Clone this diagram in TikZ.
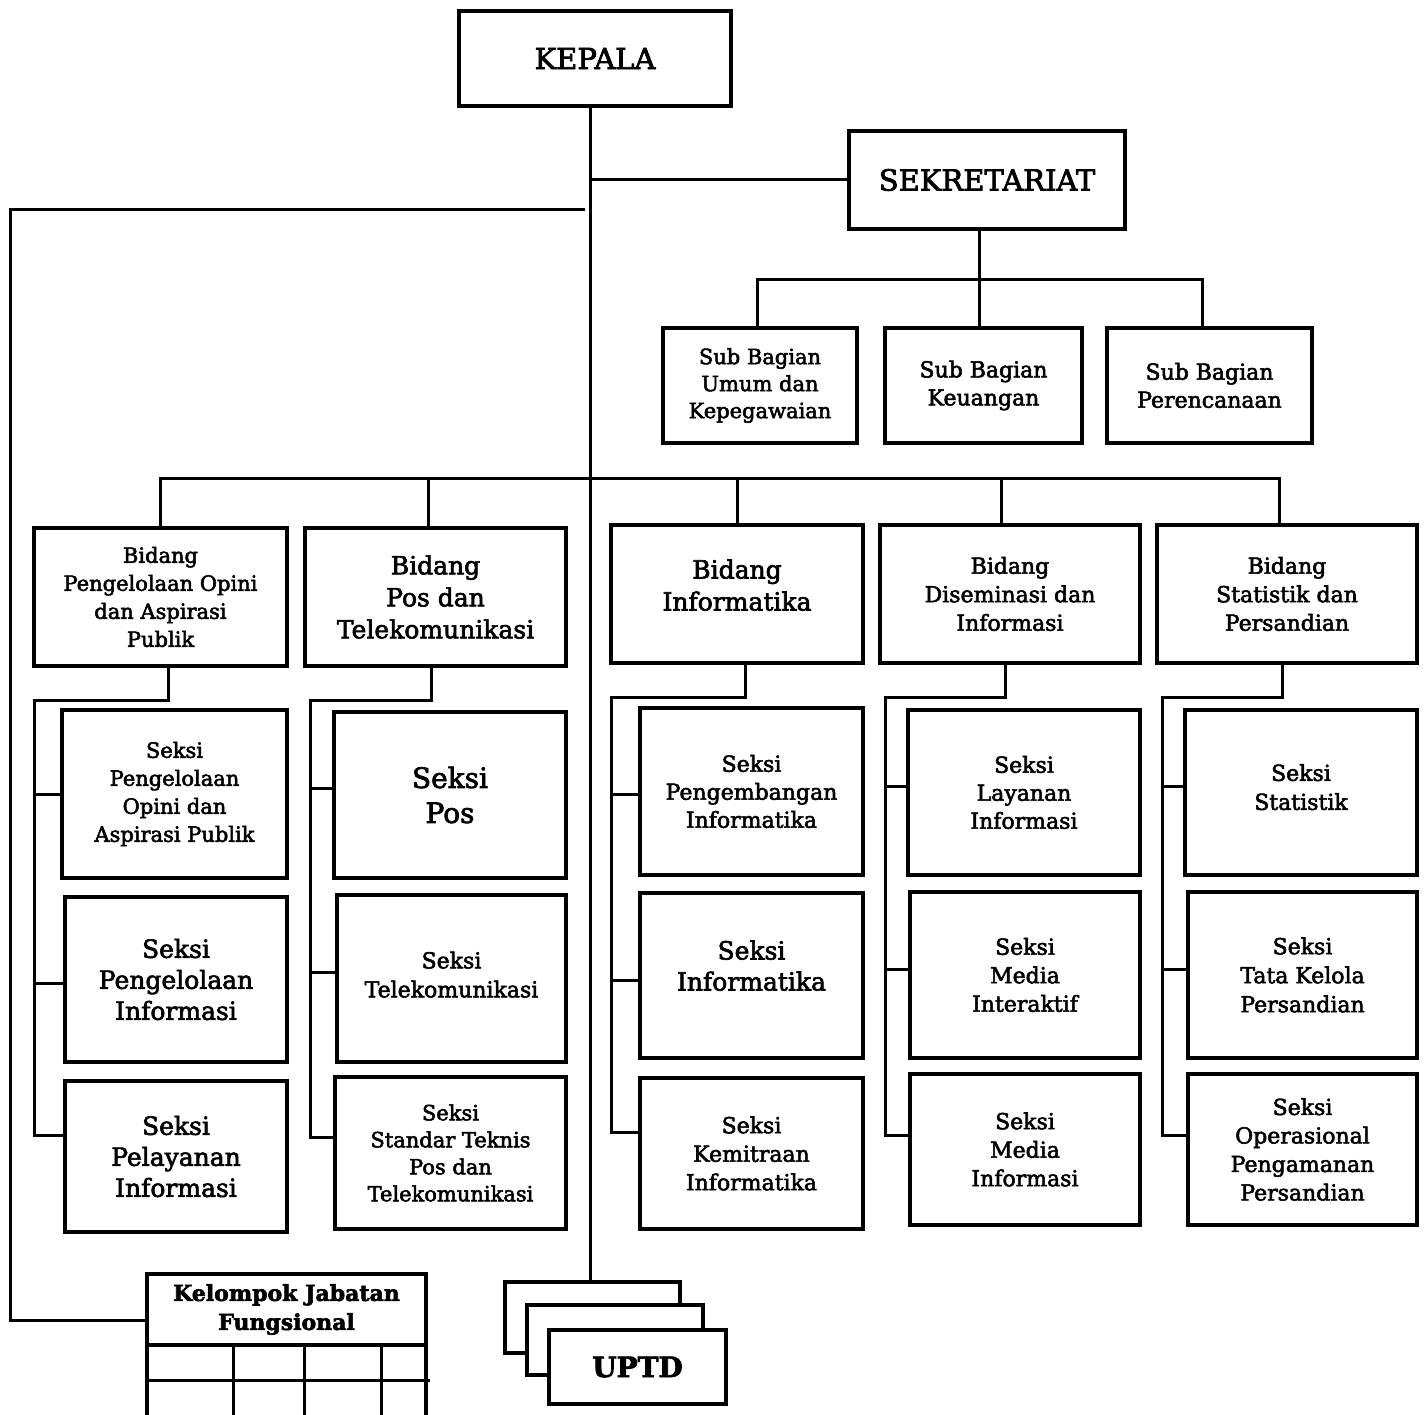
\documentclass[tikz,border=0pt]{standalone}
\usepackage{fontspec}
\setmainfont{DejaVu Serif}[FakeBold=2.5]
\newcommand\myfs[2]{\fontsize{#1}{#2}\selectfont}
\tikzset{
  box/.style={draw, line width=3.4pt, align=center, inner sep=2pt, fill=white},
  ln/.style={line width=3pt},
}
\newcommand\bx[7][]{%
  \pgfmathsetmacro\bw{#5-#3}\pgfmathsetmacro\bh{#6-#4}%
  \node[box,minimum width=\bw pt,minimum height=\bh pt,#1] (#2) at ({(#3+#5)/2},{(#4+#6)/2}) {#7};}
\begin{document}
\begin{tikzpicture}[x=1pt,y=-1pt]
\useasboundingbox (0,0) rectangle (1424,1415);
% top
\bx[font=\myfs{29}{34}]{kepala}{459}{11}{731}{106}{KEPALA}
\bx[font=\myfs{29}{34}]{sek}{849}{131}{1125}{229}{SEKRETARIAT}
\bx[font=\myfs{21}{27}]{sb1}{663}{328}{857}{443}{Sub Bagian\\Umum dan\\Kepegawaian}
\bx[font=\myfs{22}{28}]{sb2}{885}{328}{1082}{443}{Sub Bagian\\Keuangan}
\bx[font=\myfs{22}{28}]{sb3}{1107}{328}{1312}{443}{Sub Bagian\\Perencanaan}
% bidang
\bx[font=\myfs{21}{28}]{b1}{34}{528}{287}{666}{Bidang\\Pengelolaan Opini\\dan Aspirasi\\Publik}
\bx[font=\myfs{25}{32}]{b2}{305}{528}{566}{666}{Bidang\\Pos dan\\Telekomunikasi}
\bx[font=\myfs{25}{32}]{b3}{611}{525}{863}{663}{Bidang\\Informatika\\[-14pt]}
\bx[font=\myfs{22}{28.5}]{b4}{880}{525}{1140}{663}{Bidang\\Diseminasi dan\\Informasi}
\bx[font=\myfs{22}{28.5}]{b5}{1157}{525}{1417}{663}{Bidang\\Statistik dan\\Persandian}
% seksi col 1
\bx[font=\myfs{21}{28}]{s11}{62}{710}{287}{878}{Seksi\\Pengelolaan\\Opini dan\\Aspirasi Publik}
\bx[font=\myfs{25}{31}]{s12}{65}{897}{287}{1062}{Seksi\\Pengelolaan\\Informasi}
\bx[font=\myfs{25}{31}]{s13}{65}{1081}{287}{1232}{Seksi\\Pelayanan\\Informasi}
% col 2
\bx[font=\myfs{28}{35}]{s21}{334}{712}{566}{878}{Seksi\\Pos}
\bx[font=\myfs{22}{29}]{s22}{337}{895}{566}{1062}{Seksi\\Telekomunikasi\\[-21pt]}
\bx[font=\myfs{21}{27}]{s23}{335}{1077}{566}{1229}{Seksi\\Standar Teknis\\Pos dan\\Telekomunikasi}
% col 3
\bx[font=\myfs{22}{28}]{s31}{640}{708}{863}{875}{Seksi\\Pengembangan\\Informatika}
\bx[font=\myfs{25}{31}]{s32}{640}{893}{863}{1058}{Seksi\\Informatika\\[-11pt]}
\bx[font=\myfs{22}{28.5}]{s33}{640}{1078}{863}{1229}{Seksi\\Kemitraan\\Informatika}
% col 4
\bx[font=\myfs{22}{28}]{s41}{908}{710}{1140}{875}{Seksi\\Layanan\\Informasi}
\bx[font=\myfs{22}{28.5}]{s42}{910}{892}{1140}{1058}{Seksi\\Media\\Interaktif}
\bx[font=\myfs{22}{28.5}]{s43}{910}{1074}{1140}{1225}{Seksi\\Media\\Informasi}
% col 5
\bx[font=\myfs{22}{29}]{s51}{1185}{710}{1417}{875}{Seksi\\Statistik\\[-18pt]}
\bx[font=\myfs{22}{29}]{s52}{1188}{892}{1417}{1058}{Seksi\\Tata Kelola\\Persandian}
\bx[font=\myfs{22}{28.5}]{s53}{1188}{1074}{1417}{1225}{Seksi\\Operasional\\Pengamanan\\Persandian}
% kelompok jabatan fungsional
\bx[font=\bfseries\myfs{22}{29}]{kjf}{147}{1274}{426}{1345}{Kelompok Jabatan\\Fungsional}
\draw[box] (147,1345) -- (147,1418);
\draw[ln] (233,1345) -- (233,1418);
\draw[ln] (304,1345) -- (304,1418);
\draw[ln] (381,1345) -- (381,1418);
\draw[box] (426,1345) -- (426,1418);
\draw[ln] (147,1380) -- (430,1380);
% UPTD
\bx{u1}{505}{1282}{680}{1353}{}
\bx{u2}{527}{1305}{703}{1375}{}
\bx[font=\bfseries\myfs{28}{34}]{u3}{549}{1330}{726}{1404}{UPTD}
% spine
\coordinate (spine) at (590,0);
\draw[ln] (kepala.south -| spine) -- (u1.north -| spine);
\draw[ln] (spine |- sek.west) -- (sek.west);
% kelompok line
\coordinate (kl) at (10,210);
\coordinate (kr) at (585,210);
\draw[ln] (kr) -- (kl) |- ([yshift=-11pt]kjf.west);
% sekretariat subs
\coordinate (sekbus) at (0,280);
\draw[ln] ([xshift=-4pt]sek.south -| sb2.north) -- ([xshift=-4pt]sb2.north);
\draw[ln] ([xshift=-3pt]sb1.north) |- ([xshift=-7pt]sekbus -| sb3.north) -- ([xshift=-7pt]sb3.north);
% bidang bus
\coordinate (bus) at (0,478);
\draw[ln] (b1.north) |- ([xshift=-8pt]b5.north |- bus) -- ([xshift=-8pt]b5.north);
\draw[ln] ([xshift=-7pt]b2.north) -- ([xshift=-7pt]b2.north |- bus);
\draw[ln] (b3.north) -- (b3.north |- bus);
\draw[ln] ([xshift=-9pt]b4.north) -- ([xshift=-9pt]b4.north |- bus);
% col 1 connectors
\coordinate (j1) at (34,700);
\draw[ln] ([xshift=8pt]b1.south) |- (j1) |- ([yshift=21pt]s13.west);
\draw[ln] (j1 |- s11.west) -- (s11.west);
\draw[ln] ([yshift=-4pt]j1 |- s12.west) -- ([yshift=-4pt]s12.west);
% col 2
\coordinate (j2) at (310,700);
\draw[ln] ([xshift=-4pt]b2.south) |- (j2) |- ([yshift=16pt]s23.west);
\draw[ln] ([yshift=7pt]j2 |- s21.west) -- ([yshift=7pt]s21.west);
\draw[ln] ([yshift=6pt]j2 |- s22.west) -- ([yshift=6pt]s22.west);
% col 3
\coordinate (j3) at (611,697);
\draw[ln] ([xshift=8pt]b3.south) |- (j3) |- ([yshift=21pt]s33.west);
\draw[ln] ([yshift=-3pt]j3 |- s31.west) -- ([yshift=-3pt]s31.west);
\draw[ln] ([yshift=-5pt]j3 |- s32.west) -- ([yshift=-5pt]s32.west);
% col 4
\coordinate (j4) at (885,697);
\draw[ln] ([xshift=-5pt]b4.south) |- (j4) |- ([yshift=14pt]s43.west);
\draw[ln] ([yshift=6pt]j4 |- s41.west) -- ([yshift=6pt]s41.west);
\draw[ln] ([yshift=6pt]j4 |- s42.west) -- ([yshift=6pt]s42.west);
% col 5
\coordinate (j5) at (1162,697);
\draw[ln] ([xshift=-5pt]b5.south) |- (j5) |- ([yshift=14pt]s53.west);
\draw[ln] ([yshift=6pt]j5 |- s51.west) -- ([yshift=6pt]s51.west);
\draw[ln] ([yshift=6pt]j5 |- s52.west) -- ([yshift=6pt]s52.west);
\end{tikzpicture}
\end{document}
